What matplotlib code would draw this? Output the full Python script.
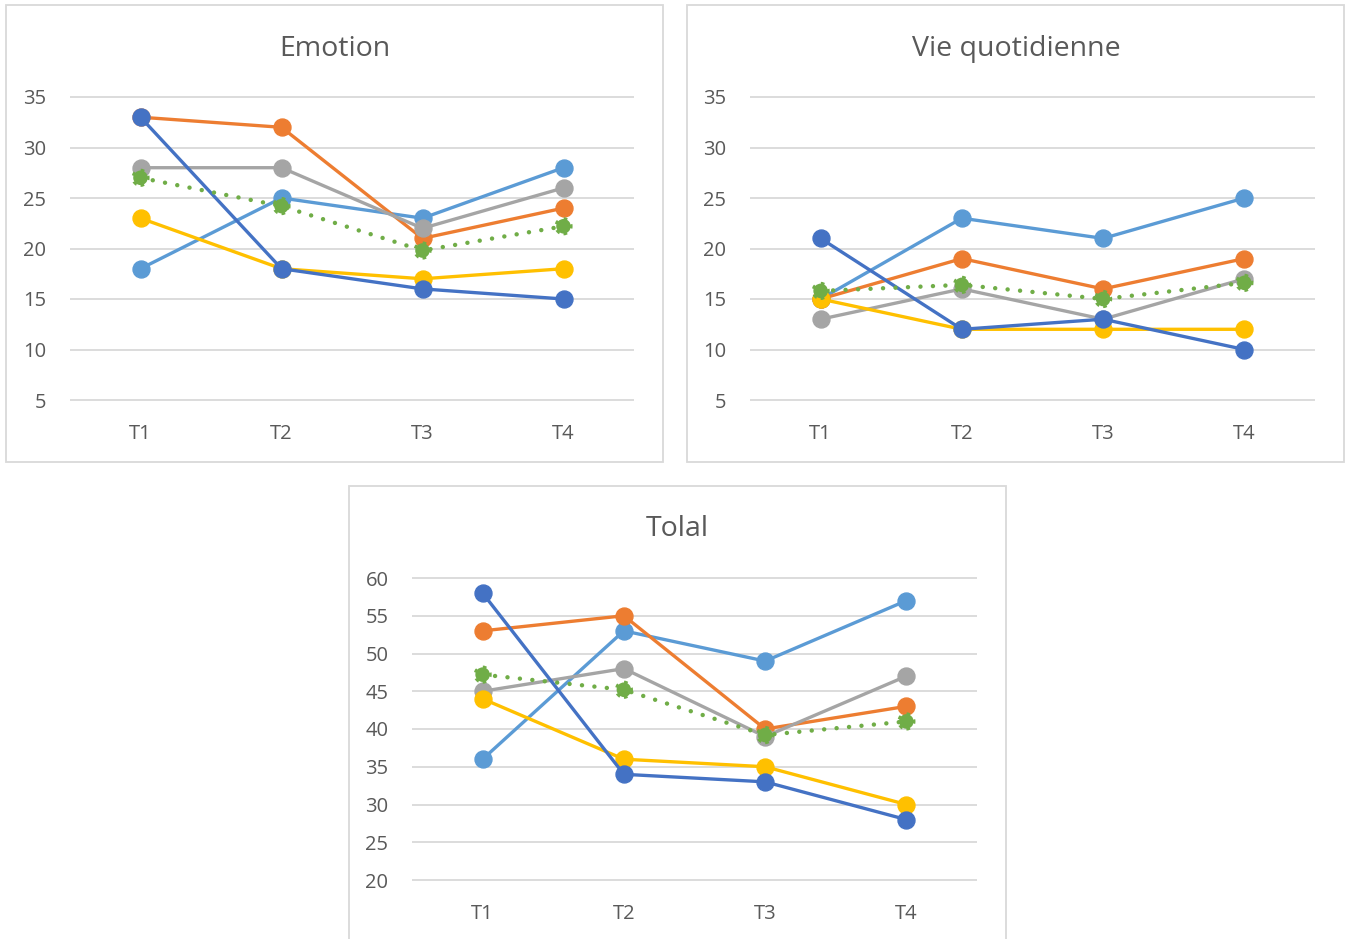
import matplotlib
matplotlib.use("Agg")
import matplotlib.pyplot as plt
from matplotlib.patches import Rectangle

plt.rcParams['font.family'] = ['Open Sans', 'DejaVu Sans']

W, H = 1348, 939

categories = ["T1", "T2", "T3", "T4"]

# Series colours, listed bottom to top in drawing order
series_colors = ["#5B9BD5", "#ED7D31", "#A5A5A5", "#FFC000", "#4472C4"]
mean_color = "#70AD47"

emotion_series = [
    [18, 25, 23, 28],   # light blue
    [33, 32, 21, 24],   # orange
    [28, 28, 22, 26],   # grey
    [23, 18, 17, 18],   # yellow
    [33, 18, 16, 15],   # dark blue
]
emotion_mean = [27.0, 24.2, 19.8, 22.2]
emotion_ticks = [5, 10, 15, 20, 25, 30, 35]

vie_series = [
    [15, 23, 21, 25],
    [15, 19, 16, 19],
    [13, 16, 13, 17],
    [15, 12, 12, 12],
    [21, 12, 13, 10],
]
vie_mean = [15.8, 16.4, 15.0, 16.6]
vie_ticks = [5, 10, 15, 20, 25, 30, 35]

total_series = [
    [36, 53, 49, 57],
    [53, 55, 40, 43],
    [45, 48, 39, 47],
    [44, 36, 35, 30],
    [58, 34, 33, 28],
]
total_mean = [47.2, 45.2, 39.2, 41.0]
total_ticks = [20, 25, 30, 35, 40, 45, 50, 55, 60]

text_color = "#595959"
grid_color = "#D9D9D9"

fig = plt.figure(figsize=(W / 100, H / 100), dpi=100)


def frame(x0, y0, x1, y1):
    r = Rectangle((x0 / W, 1 - y1 / H), (x1 - x0) / W, (y1 - y0) / H,
                  transform=fig.transFigure, facecolor="none",
                  edgecolor=grid_color, linewidth=1.3, zorder=-1)
    fig.patches.append(r)


def panel(box, plot, title, title_xy, series, mean, ticks):
    frame(*box)
    px0, py0, px1, py1 = plot
    ax = fig.add_axes([px0 / W, 1 - py1 / H, (px1 - px0) / W, (py1 - py0) / H])
    ax.set_facecolor("none")
    x = list(range(1, len(categories) + 1))
    ax.set_xlim(0.5, len(categories) + 0.5)
    ax.set_ylim(ticks[0], ticks[-1])
    for s in ax.spines.values():
        s.set_visible(False)
    ax.hlines(ticks, 0.5, len(categories) + 0.5, colors=grid_color,
              linewidth=1.3, clip_on=False, zorder=1)
    ax.set_yticks(ticks)
    ax.set_yticklabels([str(t) for t in ticks])
    ax.set_xticks(x)
    ax.set_xticklabels(categories)
    ax.tick_params(axis="both", length=0, labelsize=14.5, colors=text_color)
    ax.tick_params(axis="y", pad=17)
    ax.tick_params(axis="x", pad=17)

    for i, (vals, c) in enumerate(zip(series, series_colors)):
        ax.plot(x, vals, color=c, linewidth=2.4, marker="o", markersize=12.2,
                markerfacecolor=c, markeredgecolor=c, clip_on=False,
                zorder=3 + i, solid_capstyle="round")

    ax.plot(x, mean, color=mean_color, linewidth=3.2,
            linestyle=(0, (0.01, 2.8)), dash_capstyle="round",
            clip_on=False, zorder=10)
    ax.scatter(x, mean, s=110, facecolor=mean_color, edgecolor=mean_color,
               linewidths=2.6, linestyles=":", clip_on=False, zorder=11)

    fig.text(title_xy[0] / W, 1 - title_xy[1] / H, title, ha="center",
             va="center", fontsize=20.5, color=text_color)
    return ax


panel((6, 5, 663, 462), (70, 97, 634, 400), "Emotion", (335, 49),
      emotion_series, emotion_mean, emotion_ticks)
panel((687, 5, 1344, 462), (750, 97, 1315, 400), "Vie quotidienne", (1016, 49),
      vie_series, vie_mean, vie_ticks)
panel((349, 486, 1006, 960), (412, 578, 977, 880), "Tolal", (677, 529),
      total_series, total_mean, total_ticks)

fig.savefig("out.png", dpi=100, facecolor="white")
